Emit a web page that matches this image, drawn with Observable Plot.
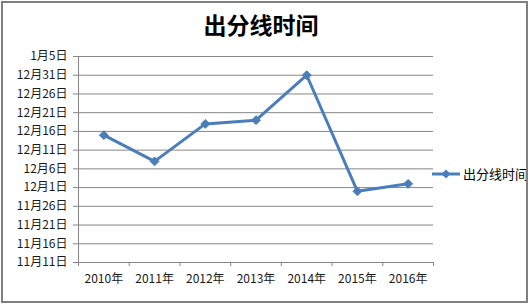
<!DOCTYPE html>
<html><head><meta charset="utf-8">
<script src="https://cdn.jsdelivr.net/npm/d3@7"></script>
<script src="https://cdn.jsdelivr.net/npm/@observablehq/plot@0.6"></script>
<style>
body{margin:0;background:#fff;}
#wrap{position:relative;width:530px;height:306px;overflow:hidden;font-family:"Noto Sans CJK SC","Noto Sans",sans-serif;background:#fff;}
#title{position:absolute;left:0;top:0;width:522px;height:46px;text-align:center;font-size:23px;font-weight:700;line-height:49px;color:#000;}
#chart{position:absolute;left:0;top:46px;}
#border{position:absolute;left:1px;top:1px;width:527px;height:302px;box-sizing:border-box;border:2px solid #808080;overflow:hidden;}
#legend{position:absolute;left:429px;top:161px;display:flex;align-items:center;white-space:nowrap;font-size:13px;color:#000;}
#legend svg{margin-right:3px;}
</style></head><body>
<div id="wrap">
  <div id="title"></div>
  <div id="chart"></div>
  <div id="border"><div id="legend"></div></div>
</div>
<script>
const chartTitle = "出分线时间";
const seriesName = "出分线时间";
const years = [2010, 2011, 2012, 2013, 2014, 2015, 2016];
const dates = ["12-15", "12-08", "12-18", "12-19", "12-31", "11-30", "12-02"];
const yTickLabels = ["11月11日","11月16日","11月21日","11月26日","12月1日","12月6日","12月11日","12月16日","12月21日","12月26日","12月31日","1月5日"];
const lineColor = "#4A7EBB";
const gridColor = "#868686";

const season = (m, d) => new Date(Date.UTC(m >= 11 ? 2000 : 2001, m - 1, d));
const data = years.map((y, i) => {
  const [m, d] = dates[i].split("-").map(Number);
  return {year: y, date: season(m, d)};
});
const yTicks = yTickLabels.map(s => {
  const [, m, d] = s.match(/(\d+)月(\d+)日/).map(Number);
  return season(m, d);
});
const labelByTime = new Map(yTicks.map((t, i) => [+t, yTickLabels[i]]));
const xBounds = d3.range(years.length + 1).map(i => years[0] - 0.5 + i);

document.getElementById("title").textContent = chartTitle;

const plot = Plot.plot({
  width: 530, height: 260,
  marginLeft: 78, marginRight: 97, marginTop: 10, marginBottom: 44,
  style: {fontSize: "12px", fontFamily: '"Noto Sans CJK SC","Noto Sans",sans-serif', color: "#1a1a1a", background: "transparent", overflow: "visible"},
  x: {type: "linear", domain: [xBounds[0], xBounds[xBounds.length - 1]], label: null},
  y: {type: "utc", domain: [yTicks[0], yTicks[yTicks.length - 1]], label: null},
  marks: [
    Plot.gridY(yTicks, {stroke: gridColor, strokeOpacity: 1, strokeWidth: 1}),
    Plot.axisY(yTicks, {tickSize: 5, tickPadding: 6, tickFormat: d => labelByTime.get(+d), stroke: gridColor, fill: "#1a1a1a", label: null}),
    Plot.ruleX([xBounds[0]], {stroke: gridColor, strokeWidth: 1}),
    Plot.axisX(xBounds, {tickSize: 4, tickFormat: () => "", stroke: gridColor, label: null}),
    Plot.axisX(years, {tickSize: 0, tickPadding: 12, tickFormat: d => `${d}年`, fill: "#1a1a1a", label: null}),
    Plot.line(data, {x: "year", y: "date", stroke: lineColor, strokeWidth: 3}),
    Plot.dot(data, {x: "year", y: "date", symbol: "diamond2", r: 4, fill: lineColor, stroke: lineColor, strokeWidth: 1})
  ]
});
document.getElementById("chart").appendChild(plot);

const lg = document.getElementById("legend");
lg.innerHTML = `<svg width="28" height="12"><line x1="0" y1="6" x2="28" y2="6" stroke="${lineColor}" stroke-width="3"/><path d="M14,1.5L18.5,6L14,10.5L9.5,6Z" fill="${lineColor}"/></svg><span></span>`;
lg.querySelector("span").textContent = seriesName;
</script>
</body></html>
